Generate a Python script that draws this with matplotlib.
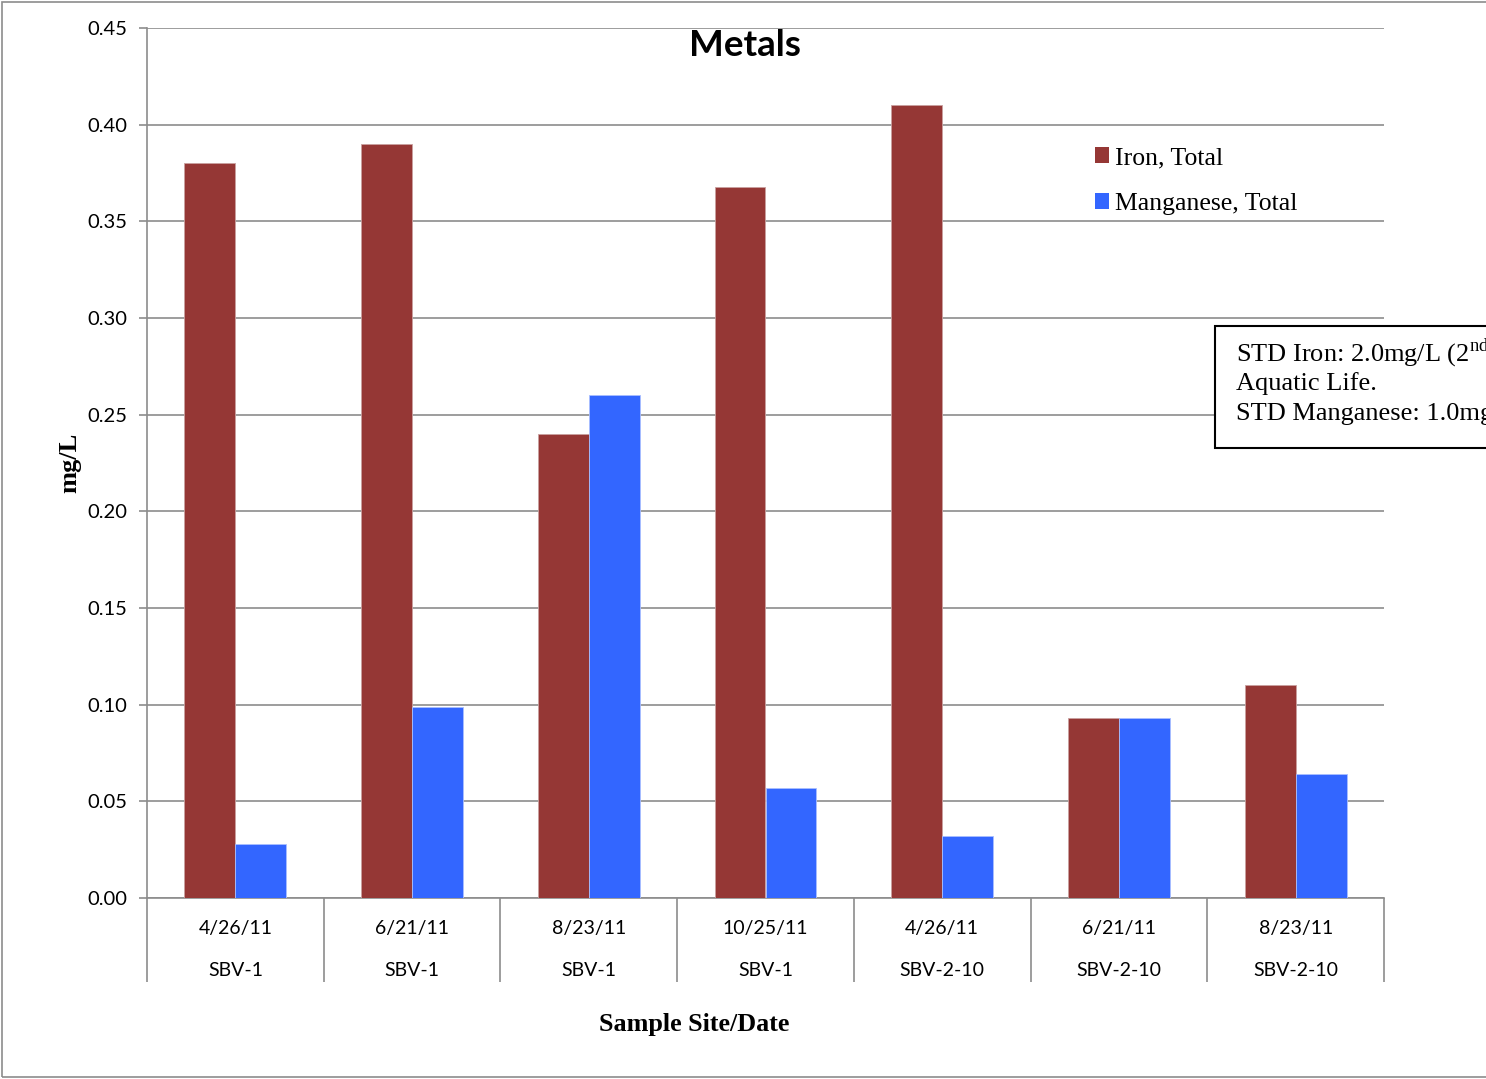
import numpy
from matplotlib import pyplot as plt
from matplotlib.patches import Rectangle, Patch

# --- data --- #
dates = ['4/26/11', '6/21/11', '8/23/11', '10/25/11', '4/26/11', '6/21/11', '8/23/11']
sites = ['SBV-1', 'SBV-1', 'SBV-1', 'SBV-1', 'SBV-2-10', 'SBV-2-10', 'SBV-2-10']
iron_total = [0.38, 0.39, 0.24, 0.368, 0.41, 0.093, 0.11]
manganese_total = [0.028, 0.099, 0.26, 0.057, 0.032, 0.093, 0.064]

iron_color = '#953735'
mn_color = '#3366FF'
grid_color = '#8c8c8c'

plt.rcParams['mathtext.fontset'] = 'custom'
plt.rcParams['mathtext.rm'] = 'Liberation Serif'

fig = plt.figure(figsize=(14.86, 10.79), dpi=100)
ax = fig.add_axes([147 / 1486, 181 / 1079, (1384 - 147) / 1486, (1051 - 181) / 1079])

x = numpy.arange(len(dates))
bar_w = 0.288
ax.bar(x - bar_w / 2, iron_total, bar_w, color=iron_color, edgecolor='#c9a09f', linewidth=0.6, zorder=3)
ax.bar(x + bar_w / 2, manganese_total, bar_w, color=mn_color, edgecolor='#a9bfff', linewidth=0.6, zorder=3)

ax.set_xlim(-0.5, len(dates) - 0.5)
ax.set_ylim(0, 0.45)
ax.set_yticks(numpy.arange(0, 0.451, 0.05))
ax.set_yticklabels(['%.2f' % v for v in numpy.arange(0, 0.451, 0.05)], fontfamily='Lato', fontsize=14.5)
ax.yaxis.grid(True, color=grid_color, linewidth=1.2, zorder=0)
ax.set_axisbelow(True)

# category labels: date over site
ax.set_xticks(x)
ax.set_xticklabels([d + '\n\n' + s for d, s in zip(dates, sites)], fontfamily='Lato', fontsize=14,
                   linespacing=1.3)
ax.tick_params(axis='x', which='major', length=0, pad=15.5)
ax.set_xticks(numpy.arange(-0.5, len(dates)), minor=True)
ax.tick_params(axis='x', which='minor', length=60.5, width=1.2, color=grid_color, direction='out')
ax.tick_params(axis='y', length=6, width=1.2, color=grid_color, direction='out', pad=8)

for side in ['top', 'right']:
    ax.spines[side].set_visible(False)
for side in ['left', 'bottom']:
    ax.spines[side].set_color(grid_color)
    ax.spines[side].set_linewidth(1.2)

fig.text(70 / 1486, 1 - 463 / 1079, 'mg/L', fontfamily='Liberation Serif', fontweight='bold',
         fontsize=19, rotation=90, ha='center', va='center')
fig.text(694 / 1486, 1 - 1024 / 1079, 'Sample Site/Date', fontfamily='Liberation Serif',
         fontweight='bold', fontsize=18.8, ha='center', va='center')
fig.text(745 / 1486, 1 - 45 / 1079, 'Metals', fontfamily='Lato', fontweight='bold',
         fontsize=26.5, ha='center', va='center')

handles = [Patch(facecolor=iron_color), Patch(facecolor=mn_color)]
fig.legend(handles, ['Iron, Total', 'Manganese, Total'], loc='upper left',
           bbox_to_anchor=(1085 / 1486, 1 - 137 / 1079), frameon=False,
           prop={'family': 'Liberation Serif', 'size': 18.5}, handlelength=0.55, handleheight=0.55,
           handletextpad=0.2, labelspacing=0.92, borderaxespad=0)

# standards note box (runs off the right edge like the original)
fig.patches.append(Rectangle((1215 / 1486, 1 - 448 / 1079), 400 / 1486, 122 / 1079,
                             transform=fig.transFigure, facecolor='white', edgecolor='black',
                             linewidth=1.5, zorder=5))
fig.text(1236 / 1486, 1 - 353 / 1079, r'STD Iron: 2.0mg/L (2$^{\mathrm{nd}}$ Class',
         fontfamily='Liberation Serif', fontsize=19, va='center', zorder=6)
fig.text(1236 / 1486, 1 - 384 / 1079, 'Aquatic Life.', fontfamily='Liberation Serif',
         fontsize=19, va='center', zorder=6)
fig.text(1236 / 1486, 1 - 414 / 1079, 'STD Manganese: 1.0mg/L', fontfamily='Liberation Serif',
         fontsize=19, va='center', zorder=6)

# outer chart border
fig.patches.append(Rectangle((2 / 1486, 2 / 1079), 1500 / 1486, 1075 / 1079,
                             transform=fig.transFigure, fill=False, edgecolor='#8c8c8c',
                             linewidth=1.2, zorder=0))

fig.savefig('out.png', dpi=100)
